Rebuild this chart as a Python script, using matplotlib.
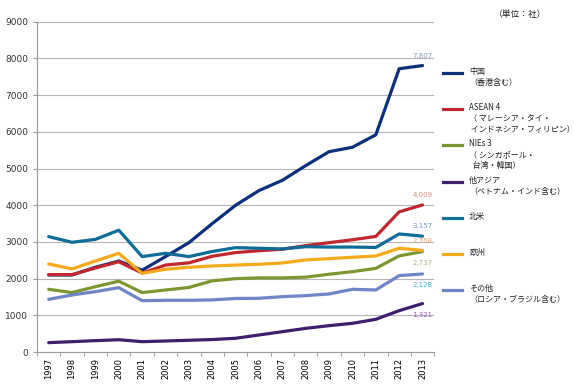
import matplotlib
matplotlib.use('Agg')
import matplotlib.pyplot as plt
from matplotlib.lines import Line2D

plt.rcParams['font.family'] = ['Noto Sans CJK JP', 'DejaVu Sans']

years = [str(y) for y in range(1997, 2014)]

china = [2100, 2100, 2310, 2480, 2230, 2600, 2980, 3500, 4000, 4400, 4680, 5080, 5460, 5580, 5920, 7720, 7807]
asean4 = [2110, 2110, 2290, 2460, 2150, 2370, 2430, 2610, 2710, 2760, 2800, 2900, 2980, 3060, 3150, 3820, 4009]
nies3 = [1710, 1620, 1780, 1930, 1620, 1690, 1760, 1940, 2000, 2020, 2020, 2040, 2120, 2190, 2280, 2620, 2737]
other_asia = [255, 282, 310, 335, 282, 300, 320, 340, 375, 464, 554, 645, 718, 782, 891, 1127, 1321]
n_america = [3145, 2990, 3070, 3320, 2600, 2690, 2600, 2740, 2845, 2827, 2810, 2870, 2860, 2860, 2850, 3218, 3157]
europe = [2400, 2264, 2480, 2690, 2145, 2255, 2310, 2345, 2370, 2391, 2427, 2509, 2545, 2582, 2618, 2827, 2768]
others = [1436, 1554, 1645, 1754, 1400, 1410, 1410, 1420, 1460, 1464, 1509, 1536, 1582, 1709, 1691, 2082, 2128]

series = [
    ('中国\n（香港含む）', china, '#0b2f7a', '#8a9cc0', 7),
    ('ASEAN 4\n（ マレーシア・タイ・\n インドネシア・フィリピン）', asean4, '#c1272d', '#e08a80', 7),
    ('NIEs 3\n（ シンガポール・\n  台湾・韓国）', nies3, '#7e9632', '#a8b878', -8),
    ('他アジア\n（ベトナム・インド含む）', other_asia, '#3d1f6d', '#9b55c8', -8),
    ('北米', n_america, '#0e6c98', '#6f9ad6', 7),
    ('欧州', europe, '#f7a91c', '#f0a070', 7),
    ('その他\n（ロシア・ブラジル含む）', others, '#6f86c6', '#40b8e8', -8),
]
end_labels = ['7,807', '4,009', '2,737', '1,321', '3,157', '2,768', '2,128']

fig = plt.figure(figsize=(5.74, 3.84), dpi=100)
ax = fig.add_axes([0.0645, 0.0833, 0.692, 0.86])

x = list(range(len(years)))
for (name, vals, color, lcolor, off), lab in zip(series, end_labels):
    ax.plot(x, vals, color=color, lw=2.3, solid_capstyle='round', zorder=3)
    ax.annotate(lab, (x[-1], vals[-1]), xytext=(0, off), textcoords='offset points',
                ha='center', va='center', fontsize=5, color=lcolor,
                family='DejaVu Sans')

ax.set_xlim(-0.5, 16.5)
ax.set_ylim(0, 9000)
ax.set_yticks(range(0, 9001, 1000))
ax.set_xticks(x)
ax.set_xticklabels(years, rotation=90, fontsize=6, family='DejaVu Sans')
ax.set_xticks([i - 0.5 for i in range(18)], minor=True)
ax.tick_params(axis='x', which='major', length=0, pad=4)
ax.tick_params(axis='x', which='minor', length=3, color='#999999')
ax.tick_params(axis='y', labelsize=6.5, length=3, color='#999999', labelcolor='#333333')
for lbl in ax.get_yticklabels():
    lbl.set_family('DejaVu Sans')
ax.grid(axis='y', color='#b5b5b5', lw=0.8)
ax.set_axisbelow(True)
for s in ['top', 'right']:
    ax.spines[s].set_visible(False)
for s in ['left', 'bottom']:
    ax.spines[s].set_color('#999999')
    ax.spines[s].set_linewidth(0.8)

# legend on the right
legend_y = [73, 109, 145, 182, 218, 254, 290]
for (name, vals, color, lcolor, off), ly in zip(series, legend_y):
    yf = 1 - ly / 384
    fig.add_artist(Line2D([443 / 574, 462 / 574], [yf, yf], color=color, lw=2.3,
                          transform=fig.transFigure))
    fig.text(469 / 574, yf + 0.016, name, fontsize=5.8, va='top', ha='left',
             color='#222222', linespacing=1.3)

fig.text(520 / 574, 1 - 15 / 384, '（単位：社）', fontsize=6.3, ha='center', va='center',
         color='#222222')

fig.savefig('out.png', dpi=100)
